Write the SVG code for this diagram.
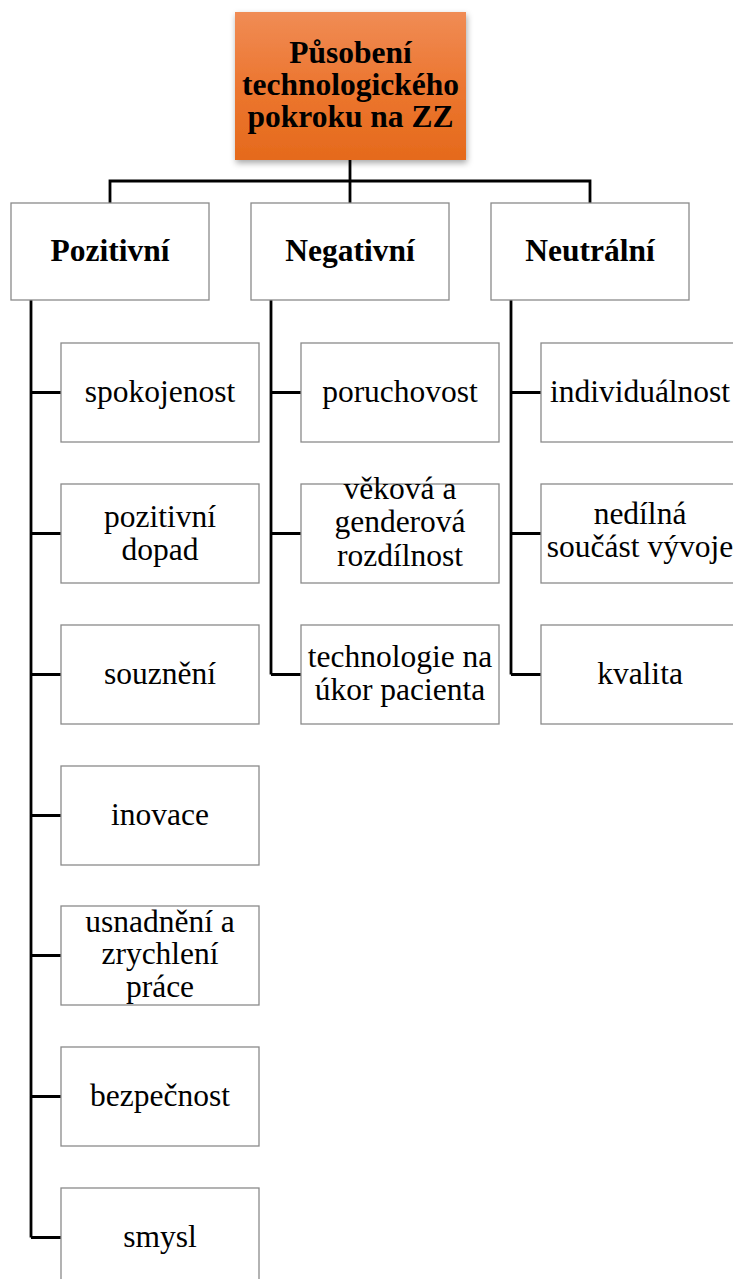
<svg xmlns="http://www.w3.org/2000/svg" width="733" height="1279" viewBox="0 0 733 1279">
<style>
.box{fill:#ffffff;stroke:#8a8a8a;stroke-width:1.3}
.t{font-size:31.5px;fill:#000;text-anchor:middle}
.b{font-weight:bold}
.c{fill:none;stroke:#000;stroke-width:2.8}
</style>
<defs>
<linearGradient id="og" x1="0" y1="0" x2="0" y2="1">
<stop offset="0" stop-color="#F08C55"/>
<stop offset="0.5" stop-color="#EC7630"/>
<stop offset="1" stop-color="#E56A1C"/>
</linearGradient>
<filter id="sh" x="-10%" y="-10%" width="125%" height="130%">
<feDropShadow dx="1" dy="3" stdDeviation="3" flood-color="#000" flood-opacity="0.35"/>
</filter>
</defs>
<g id="connectors">
<path class="c" d="M350 160V203M110 203V181H590V203"/>
<path class="c" d="M31 300V1237.5M31 392.5H61M31 533.5H61M31 674.5H61M31 815.5H61M31 955.5H61M31 1096.5H61M31 1237.5H61"/>
<path class="c" d="M271 300V674.5M271 392.5H301M271 533.5H301M271 674.5H301"/>
<path class="c" d="M511 300V674.5M511 392.5H541M511 533.5H541M511 674.5H541"/>
</g>
<g font-family="Liberation Serif, Times New Roman, serif">
<g id="root">
<rect x="235" y="12" width="231" height="148" fill="url(#og)" filter="url(#sh)"/>
<text class="t b" font-family="Liberation Serif" x="350.5" y="62.5">Působení<tspan x="350.5" y="94.5">technologického</tspan><tspan x="350.5" y="126.5">pokroku na ZZ</tspan></text>
</g>
<g id="pozitivni">
<rect class="box" x="11" y="203" width="198" height="97"/>
<text class="t b" font-family="Liberation Serif" x="110" y="261">Pozitivní</text>
</g>
<g id="negativni">
<rect class="box" x="251" y="203" width="198" height="97"/>
<text class="t b" font-family="Liberation Serif" x="350" y="261">Negativní</text>
</g>
<g id="neutralni">
<rect class="box" x="491" y="203" width="198" height="97"/>
<text class="t b" font-family="Liberation Serif" x="590" y="261">Neutrální</text>
</g>
<g id="spokojenost">
<rect class="box" x="61" y="343" width="198" height="99"/>
<text class="t" font-family="Liberation Serif" x="160" y="402">spokojenost</text>
</g>
<g id="pozitivni-dopad">
<rect class="box" x="61" y="484" width="198" height="99"/>
<text class="t" font-family="Liberation Serif" x="160" y="527">pozitivní<tspan x="160" y="559.5">dopad</tspan></text>
</g>
<g id="souzneni">
<rect class="box" x="61" y="625" width="198" height="99"/>
<text class="t" font-family="Liberation Serif" x="160" y="684">souznění</text>
</g>
<g id="inovace">
<rect class="box" x="61" y="766" width="198" height="99"/>
<text class="t" font-family="Liberation Serif" x="160" y="825">inovace</text>
</g>
<g id="usnadneni">
<rect class="box" x="61" y="906" width="198" height="99"/>
<text class="t" font-family="Liberation Serif" x="160" y="932">usnadnění a<tspan x="160" y="964">zrychlení</tspan><tspan x="160" y="996.5">práce</tspan></text>
</g>
<g id="bezpecnost">
<rect class="box" x="61" y="1047" width="198" height="99"/>
<text class="t" font-family="Liberation Serif" x="160" y="1106">bezpečnost</text>
</g>
<g id="smysl">
<rect class="box" x="61" y="1188" width="198" height="99"/>
<text class="t" font-family="Liberation Serif" x="160" y="1247">smysl</text>
</g>
<g id="poruchovost">
<rect class="box" x="301" y="343" width="198" height="99"/>
<text class="t" font-family="Liberation Serif" x="400" y="402">poruchovost</text>
</g>
<g id="vekova">
<rect class="box" x="301" y="484" width="198" height="99"/>
<text class="t" font-family="Liberation Serif" x="400" y="499">věková a<tspan x="400" y="532">genderová</tspan><tspan x="400" y="565.5">rozdílnost</tspan></text>
</g>
<g id="technologie">
<rect class="box" x="301" y="625" width="198" height="99"/>
<text class="t" font-family="Liberation Serif" x="400" y="667">technologie na<tspan x="400" y="699.5">úkor pacienta</tspan></text>
</g>
<g id="individualnost">
<rect class="box" x="541" y="343" width="198" height="99"/>
<text class="t" font-family="Liberation Serif" x="640" y="402">individuálnost</text>
</g>
<g id="nedilna">
<rect class="box" x="541" y="484" width="198" height="99"/>
<text class="t" font-family="Liberation Serif" x="640" y="524">nedílná<tspan x="640" y="556.5">součást vývoje</tspan></text>
</g>
<g id="kvalita">
<rect class="box" x="541" y="625" width="198" height="99"/>
<text class="t" font-family="Liberation Serif" x="640" y="684">kvalita</text>
</g>
</g>
</svg>
